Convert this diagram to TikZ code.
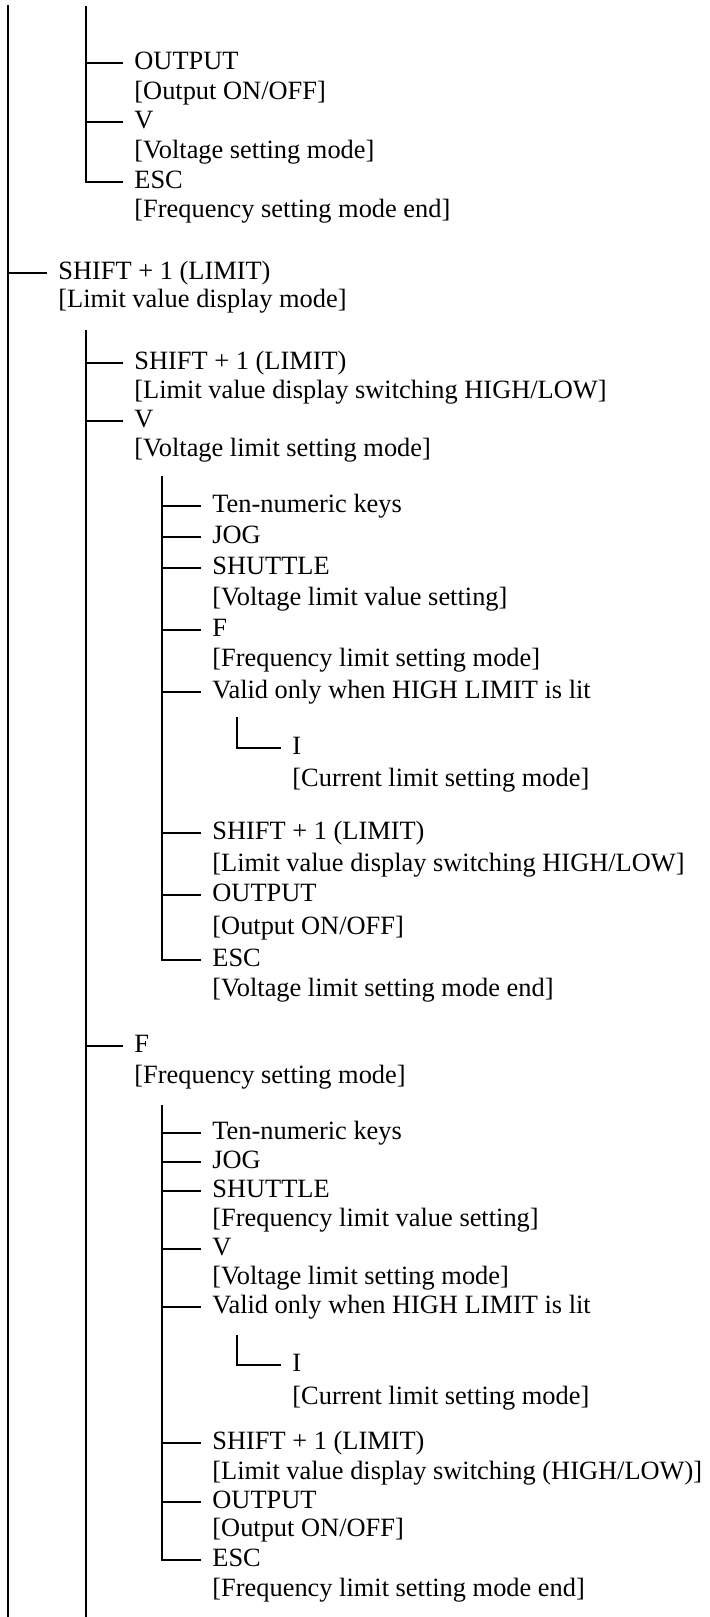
\documentclass[tikz,border=0pt]{standalone}
\usepackage{fontspec}
\setmainfont{Liberation Serif}

\begin{document}
\begin{tikzpicture}[
    x=0.5pt, y=-0.5pt,
    font=\fontsize{13.2pt}{15pt}\selectfont,
    key/.style={
      anchor=west,
      inner xsep=5.5pt,
      inner ysep=0pt,
      text height=0.9em,
      text depth=0.24em
    },
    desc/.style={key},
    branch/.style={line width=0.8pt, draw=black},
    trunk/.style={line width=1.1pt, draw=black}
  ]
    \useasboundingbox (0,0) rectangle (710,1617);

    % Bus lines (tops and ends)
    \coordinate (rootTop) at (8,5);
    \coordinate (rootBot) at (8,1617);
    \coordinate (topBus) at (86,6);
    \coordinate (limBus) at (86,330);
    \coordinate (limBusEnd) at (86,1617);
    \coordinate (vBus) at (162,476);
    \coordinate (vIBus) at (237,717);
    \coordinate (fBus) at (162,1105);
    \coordinate (fIBus) at (237,1335);

    % Frequency setting mode (tail)
    \node[key] (topOut) at (123,63) {OUTPUT};
    \node[desc] (topOutD) at (123,93) {[Output ON/OFF]};
    \node[key] (topV) at (123,122) {V};
    \node[desc] (topVD) at (123,152) {[Voltage setting mode]};
    \node[key] (topEsc) at (123,182) {ESC};
    \node[desc] (topEscD) at (123,211) {[Frequency setting mode end]};

    % Limit value display mode
    \node[key] (limit) at (47,273) {SHIFT + 1 (LIMIT)};
    \node[desc] (limitD) at (47,301) {[Limit value display mode]};

    \node[key] (lmSw) at (123,363) {SHIFT + 1 (LIMIT)};
    \node[desc] (lmSwD) at (123,392) {[Limit value display switching HIGH/LOW]};
    \node[key] (vlim) at (123,421) {V};
    \node[desc] (vlimD) at (123,450) {[Voltage limit setting mode]};

    % Voltage limit setting mode
    \node[key] (vTen) at (201,506) {Ten-numeric keys};
    \node[key] (vJog) at (201,537) {JOG};
    \node[key] (vShu) at (201,568) {SHUTTLE};
    \node[desc] (vShuD) at (201,599) {[Voltage limit value setting]};
    \node[key] (vF) at (201,630) {F};
    \node[desc] (vFD) at (201,660) {[Frequency limit setting mode]};
    \node[key] (vValid) at (201,692) {Valid only when HIGH LIMIT is lit};
    \node[key] (vI) at (281,748) {I};
    \node[desc] (vID) at (281,780) {[Current limit setting mode]};
    \node[key] (vSw) at (201,833) {SHIFT + 1 (LIMIT)};
    \node[desc] (vSwD) at (201,865) {[Limit value display switching HIGH/LOW]};
    \node[key] (vOut) at (201,895) {OUTPUT};
    \node[desc] (vOutD) at (201,928) {[Output ON/OFF]};
    \node[key] (vEsc) at (201,960) {ESC};
    \node[desc] (vEscD) at (201,990) {[Voltage limit setting mode end]};

    \node[key] (flim) at (123,1046) {F};
    \node[desc] (flimD) at (123,1077) {[Frequency setting mode]};

    % Frequency limit setting mode
    \node[key] (fTen) at (201,1133) {Ten-numeric keys};
    \node[key] (fJog) at (201,1162) {JOG};
    \node[key] (fShu) at (201,1191) {SHUTTLE};
    \node[desc] (fShuD) at (201,1220) {[Frequency limit value setting]};
    \node[key] (fV) at (201,1249) {V};
    \node[desc] (fVD) at (201,1278) {[Voltage limit setting mode]};
    \node[key] (fValid) at (201,1307) {Valid only when HIGH LIMIT is lit};
    \node[key] (fI) at (281,1365) {I};
    \node[desc] (fID) at (281,1398) {[Current limit setting mode]};
    \node[key] (fSw) at (201,1443) {SHIFT + 1 (LIMIT)};
    \node[desc] (fSwD) at (201,1473) {[Limit value display switching (HIGH/LOW)]};
    \node[key] (fOut) at (201,1502) {OUTPUT};
    \node[desc] (fOutD) at (201,1530) {[Output ON/OFF]};
    \node[key] (fEsc) at (201,1560) {ESC};
    \node[desc] (fEscD) at (201,1590) {[Frequency limit setting mode end]};

    % Tree lines
    \draw[trunk] (rootTop) -- (rootBot);
    \draw[branch] (rootTop |- limit.west) -- (limit.west);

    \draw[branch] (topBus) |- (topEsc.west);
    \foreach \n in {topOut, topV}
      \draw[branch] (topBus |- \n.west) -- (\n.west);

    \draw[branch] (limBus) -- (limBusEnd);
    \foreach \n in {lmSw, vlim, flim}
      \draw[branch] (limBus |- \n.west) -- (\n.west);

    \draw[branch] (vBus) |- (vEsc.west);
    \foreach \n in {vTen, vJog, vShu, vF, vValid, vSw, vOut}
      \draw[branch] (vBus |- \n.west) -- (\n.west);
    \draw[branch] (vIBus) |- (vI.west);

    \draw[branch] (fBus) |- (fEsc.west);
    \foreach \n in {fTen, fJog, fShu, fV, fValid, fSw, fOut}
      \draw[branch] (fBus |- \n.west) -- (\n.west);
    \draw[branch] (fIBus) |- (fI.west);

  \end{tikzpicture}
\end{document}
